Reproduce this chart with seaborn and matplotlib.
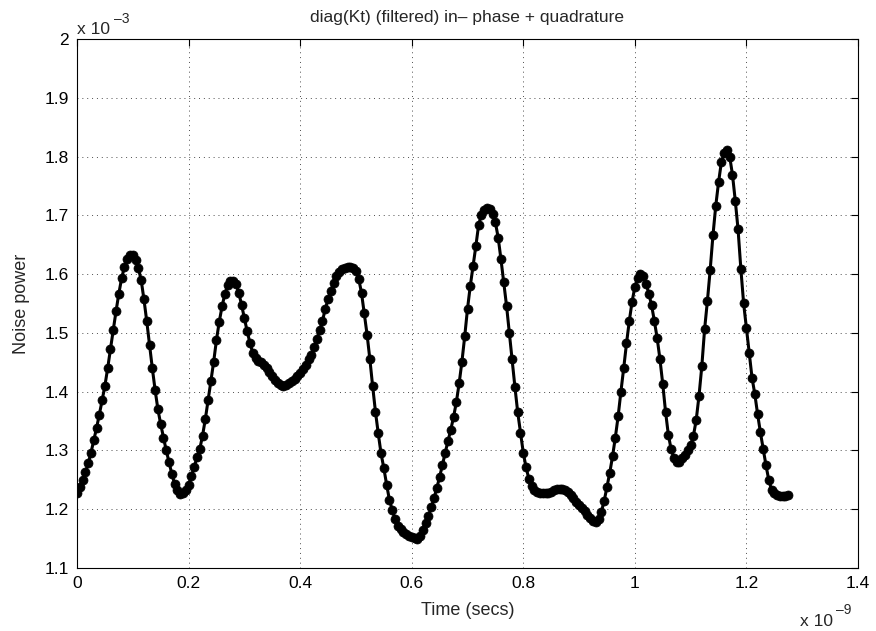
import numpy as np
import pandas as pd
import matplotlib
matplotlib.use("Agg")
import matplotlib.pyplot as plt
import seaborn as sns

# time step (in units of 1e-9 s) and number of samples
dt = 0.005
n_samples = 256

# Noise power values (in units of 1e-3), one per sample
noise_power = [
    1.228, 1.238, 1.250, 1.263, 1.278, 1.296, 1.317, 1.338, 1.361, 1.385,
    1.410, 1.440, 1.473, 1.505, 1.537, 1.567, 1.593, 1.612, 1.625, 1.632,
    1.632, 1.624, 1.610, 1.590, 1.557, 1.520, 1.480, 1.440, 1.403, 1.370,
    1.345, 1.322, 1.300, 1.280, 1.260, 1.243, 1.232, 1.226, 1.227, 1.232,
    1.242, 1.256, 1.272, 1.288, 1.302, 1.325, 1.353, 1.385, 1.418, 1.451,
    1.488, 1.519, 1.545, 1.566, 1.581, 1.589, 1.589, 1.583, 1.568, 1.548,
    1.525, 1.503, 1.483, 1.466, 1.458, 1.453, 1.450, 1.446, 1.440, 1.433,
    1.426, 1.419, 1.414, 1.411, 1.410, 1.411, 1.414, 1.418, 1.422, 1.427,
    1.432, 1.438, 1.446, 1.455, 1.462, 1.476, 1.490, 1.505, 1.520, 1.541,
    1.557, 1.571, 1.585, 1.597, 1.604, 1.609, 1.611, 1.612, 1.612, 1.610,
    1.605, 1.592, 1.568, 1.533, 1.497, 1.455, 1.409, 1.366, 1.329, 1.295,
    1.270, 1.242, 1.216, 1.199, 1.183, 1.172, 1.166, 1.162, 1.158, 1.155,
    1.153, 1.151, 1.150, 1.155, 1.165, 1.177, 1.189, 1.203, 1.219, 1.236,
    1.255, 1.275, 1.296, 1.316, 1.335, 1.357, 1.382, 1.414, 1.451, 1.494,
    1.541, 1.580, 1.614, 1.648, 1.684, 1.701, 1.709, 1.712, 1.711, 1.703,
    1.688, 1.662, 1.625, 1.586, 1.546, 1.500, 1.455, 1.408, 1.365, 1.330,
    1.296, 1.271, 1.252, 1.240, 1.233, 1.229, 1.228, 1.227, 1.227, 1.228,
    1.230, 1.232, 1.234, 1.235, 1.235, 1.233, 1.229, 1.224, 1.219, 1.213,
    1.207, 1.202, 1.197, 1.191, 1.185, 1.180, 1.178, 1.183, 1.196, 1.214,
    1.238, 1.262, 1.290, 1.322, 1.358, 1.400, 1.440, 1.482, 1.520, 1.553,
    1.578, 1.594, 1.600, 1.596, 1.584, 1.567, 1.547, 1.520, 1.491, 1.455,
    1.413, 1.366, 1.327, 1.302, 1.287, 1.281, 1.281, 1.287, 1.292, 1.300,
    1.309, 1.325, 1.352, 1.393, 1.443, 1.506, 1.554, 1.607, 1.666, 1.716,
    1.756, 1.790, 1.806, 1.811, 1.800, 1.769, 1.725, 1.676, 1.609, 1.550,
    1.508, 1.466, 1.424, 1.396, 1.362, 1.331, 1.303, 1.275, 1.250, 1.233,
    1.227, 1.224, 1.223, 1.222, 1.223, 1.225,
]

time_axis = np.arange(n_samples) * dt  # sampling grid (units of 1e-9 s)

x_ticks = [0, 0.2, 0.4, 0.6, 0.8, 1.0, 1.2, 1.4]
x_tick_labels = ["0", "0.2", "0.4", "0.6", "0.8", "1", "1.2", "1.4"]
y_ticks = [1.1, 1.2, 1.3, 1.4, 1.5, 1.6, 1.7, 1.8, 1.9, 2.0]
y_tick_labels = ["1.1", "1.2", "1.3", "1.4", "1.5", "1.6", "1.7", "1.8", "1.9", "2"]

df = pd.DataFrame({"t": time_axis, "p": noise_power})

sns.set_style("white")
plt.rcParams["font.family"] = ["Liberation Sans", "DejaVu Sans"]

fig = plt.figure(figsize=(8.76, 6.31), dpi=100)
ax = fig.add_axes([77 / 876, 1 - 568 / 631, (858 - 77) / 876, (568 - 39) / 631])

sns.lineplot(data=df, x="t", y="p", ax=ax, color="black", linewidth=2.2,
             marker="o", markersize=6.5, markeredgecolor="black",
             markerfacecolor="black", markeredgewidth=0.5)

ax.set_xlim(0, 1.4)
ax.set_ylim(1.1, 2.0)
ax.set_xticks(x_ticks)
ax.set_xticklabels(x_tick_labels)
ax.set_yticks(y_ticks)
ax.set_yticklabels(y_tick_labels)

ax.grid(True, linestyle=(0, (1, 4)), color="0.3", linewidth=0.7)
for s in ax.spines.values():
    s.set_color("black")
    s.set_linewidth(0.8)
    s.set_visible(True)
ax.tick_params(direction="in", top=True, right=True, length=5, width=0.8,
               labelsize=12.5, colors="black", pad=6)

ax.set_xlabel("Time (secs)", fontsize=13, labelpad=8)
ax.set_ylabel("Noise power", fontsize=13, labelpad=10)
ax.set_title("diag(Kt) (filtered) in\u2013 phase + quadrature", fontsize=12.5, pad=12)

# exponent labels (MATLAB style)
fig.text(77 / 876, 1 - 34 / 631, "x 10", fontsize=12.5, ha="left", va="baseline")
fig.text(114 / 876, 1 - 23 / 631, "\u20133", fontsize=10, ha="left", va="baseline")
fig.text(800 / 876, 1 - 626 / 631, "x 10", fontsize=12.5, ha="left", va="baseline")
fig.text(836 / 876, 1 - 614 / 631, "\u20139", fontsize=10, ha="left", va="baseline")

fig.savefig("out.png", dpi=100)
